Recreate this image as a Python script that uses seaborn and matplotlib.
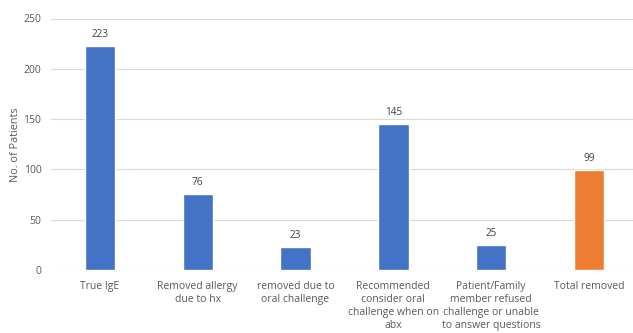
import matplotlib
matplotlib.use("Agg")
import matplotlib.pyplot as plt
import pandas as pd
import seaborn as sns

categories = [
    "True IgE",
    "Removed allergy\ndue to hx",
    "removed due to\noral challenge",
    "Recommended\nconsider oral\nchallenge when on\nabx",
    "Patient/Family\nmember refused\nchallenge or unable\nto answer questions",
    "Total removed",
]
patients = [223, 76, 23, 145, 25, 99]
bar_colors = ["#4472C4", "#4472C4", "#4472C4", "#4472C4", "#4472C4", "#ED7D31"]

df = pd.DataFrame({"Category": categories, "Patients": patients})

sns.set_style("white")
plt.rcParams["font.family"] = ["Open Sans", "DejaVu Sans"]
text_color = "#595959"

fig = plt.figure(figsize=(6.33, 3.33), dpi=100)
ax = fig.add_axes([51 / 633, 63 / 333, 582 / 633, 251.5 / 333])

sns.barplot(data=df, x="Category", y="Patients", hue="Category",
            palette=bar_colors, width=0.31, legend=False, ax=ax, saturation=1)

for i, v in enumerate(patients):
    ax.text(i, v + 6, str(v), ha="center", va="bottom", fontsize=7.2, color="#404040")

ax.set_ylim(0, 250)
ax.set_xlim(-0.5, 5.45)
ax.set_yticks(range(0, 251, 50))
ax.yaxis.grid(True, color="#D9D9D9", linewidth=0.8)
ax.set_axisbelow(True)
for s in ax.spines.values():
    s.set_visible(False)
ax.tick_params(axis="both", length=0, labelsize=7.5, colors=text_color, pad=7)
ax.tick_params(axis="x", pad=8)
for lbl in ax.get_xticklabels():
    lbl.set_linespacing(1.25)
    lbl.set_verticalalignment("top")
ax.set_xlabel("")
ax.set_ylabel("No. of Patients", fontsize=7.8, color=text_color, labelpad=2)

fig.savefig("out.png", dpi=100)
